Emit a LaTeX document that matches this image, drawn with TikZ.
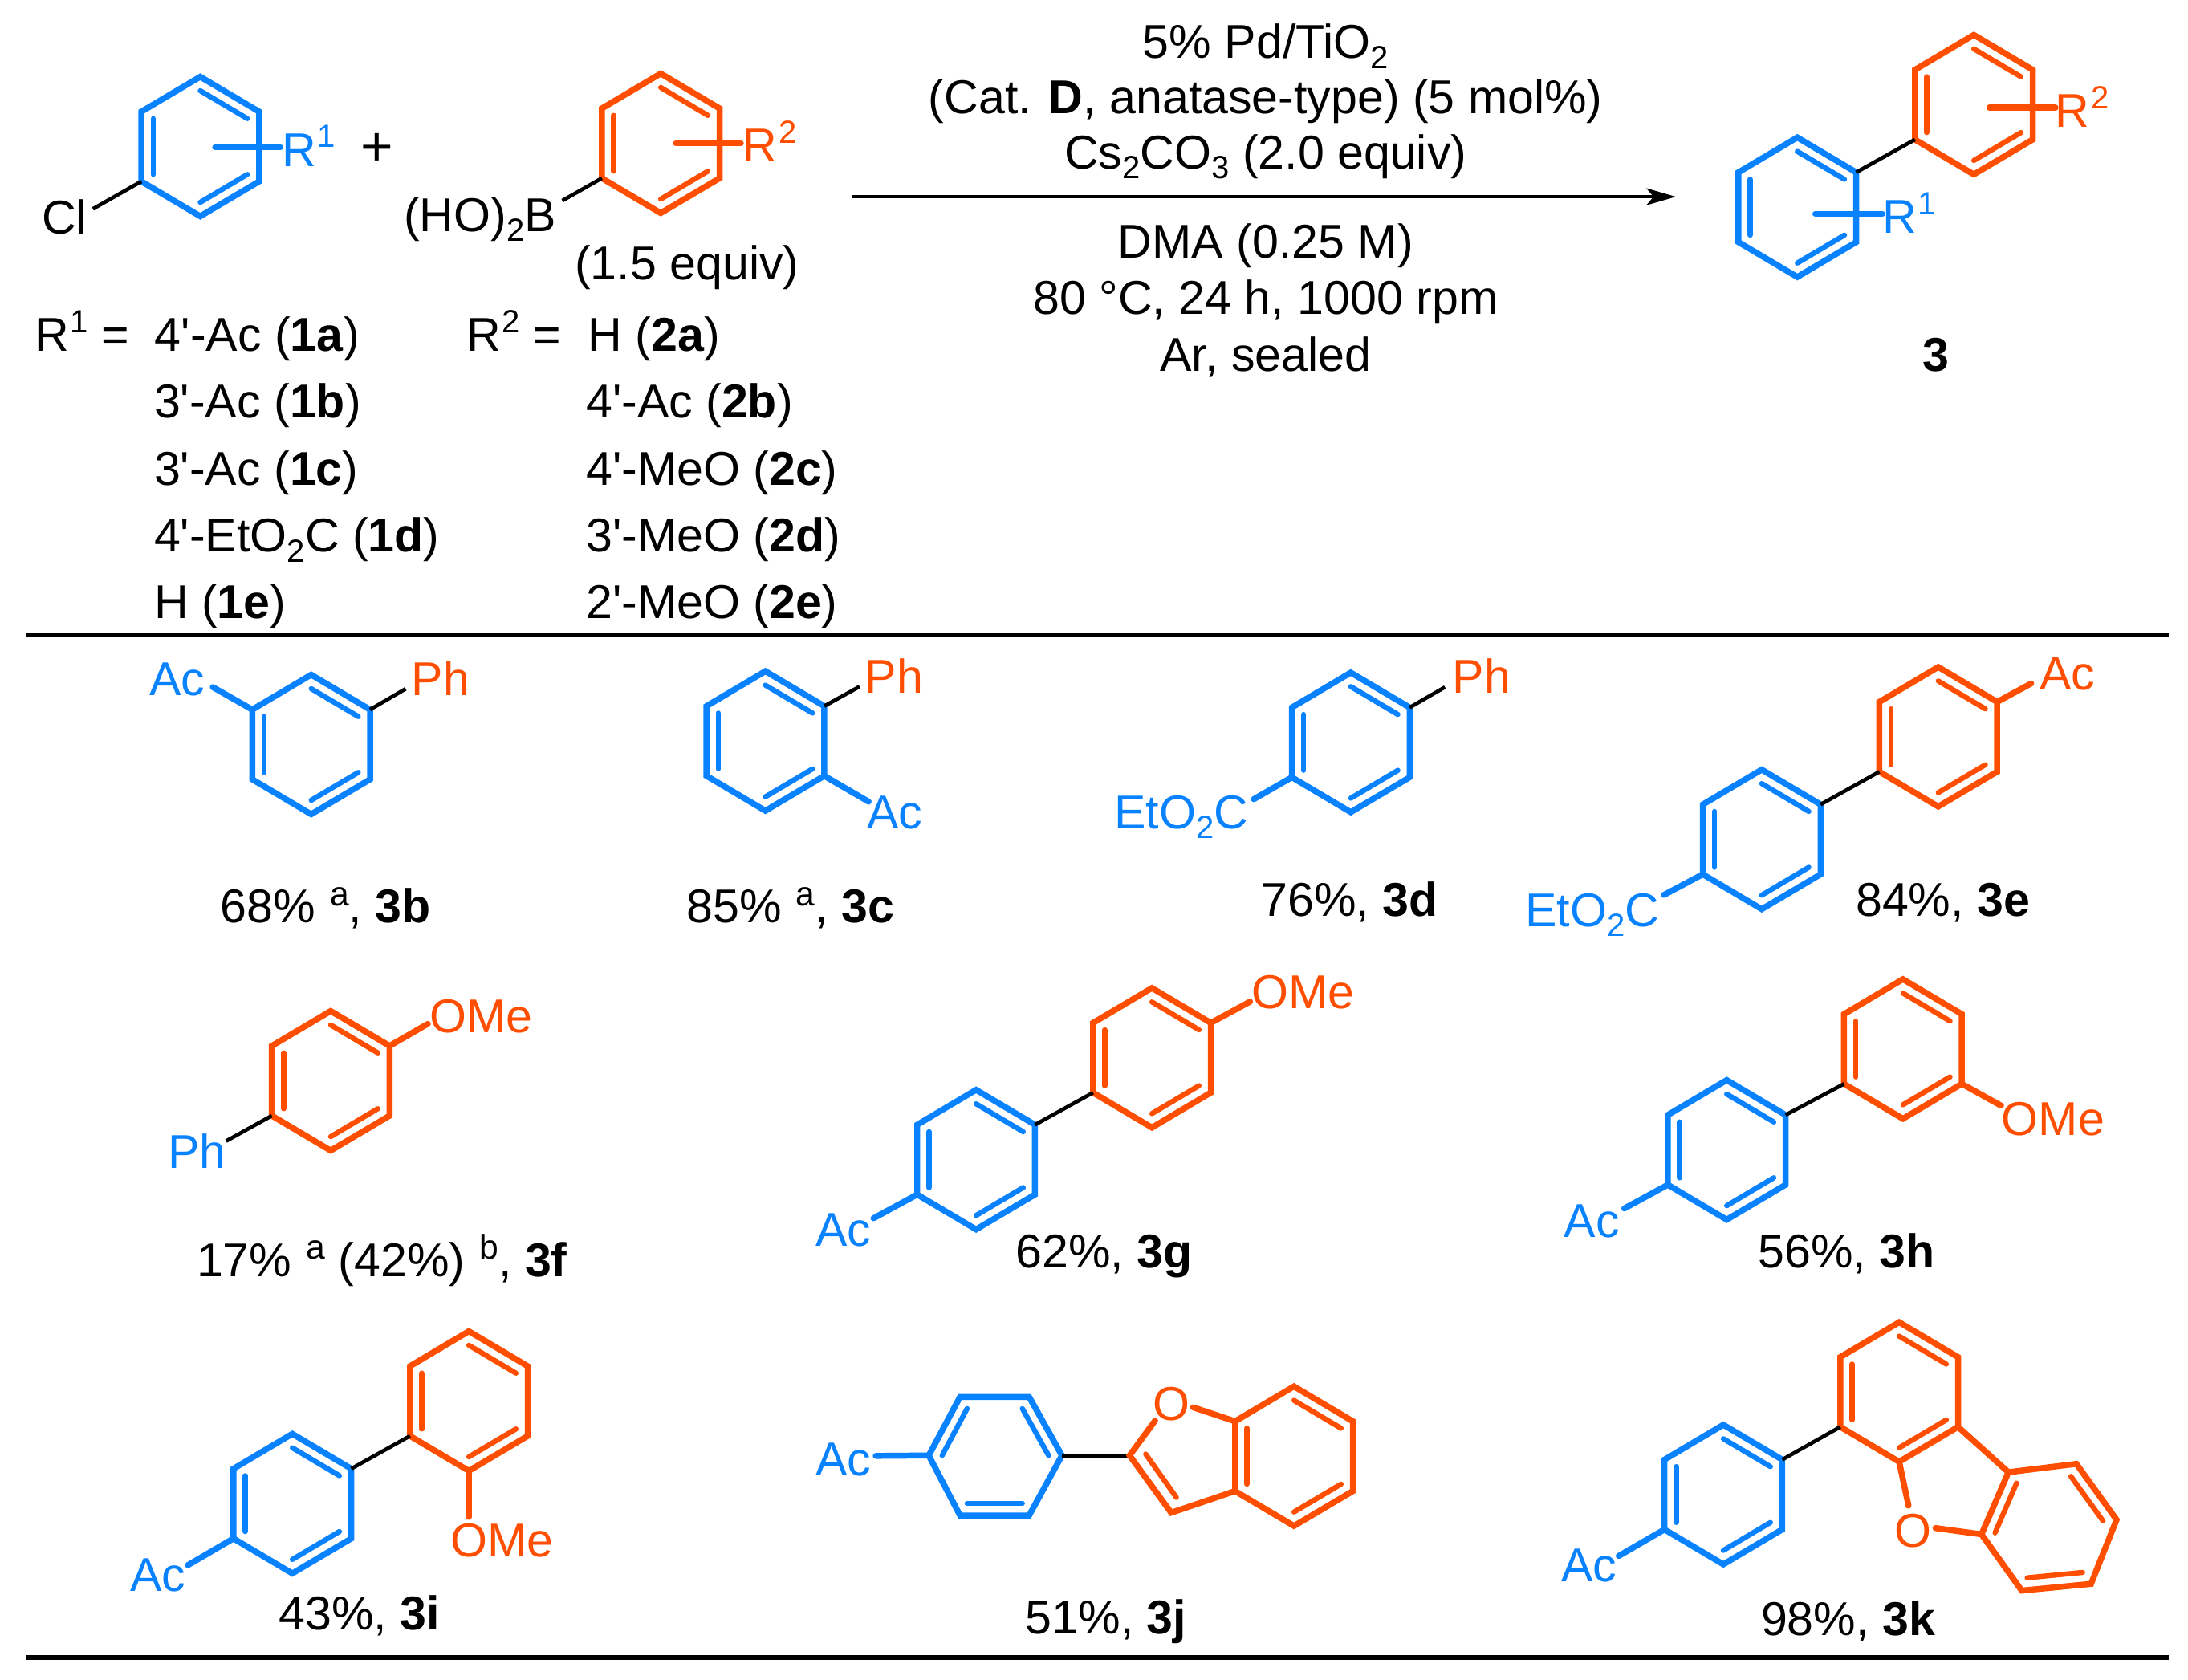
\documentclass[tikz,border=0pt]{standalone}
\usepackage{fontspec}
\setmainfont{Liberation Sans}
\usetikzlibrary{calc,arrows.meta}
\definecolor{cblue}{RGB}{8,130,255}
\definecolor{corange}{RGB}{255,78,0}
\newcommand\pr{\textquotesingle}
\newcommand\up[1]{\kern1pt\raisebox{13.5pt}{\fontsize{23}{23}\selectfont #1}}
\newcommand\ups[1]{\kern1pt\raisebox{12.5pt}{\fontsize{24.5}{24}\selectfont #1}}
\newcommand\dn[1]{\raisebox{-7.2pt}{\fontsize{23}{23}\selectfont #1}}
\newcommand\drawhex[2]{%
  \draw[bondline,#2] (#11)--(#12)--(#13)--(#14)--(#15)--(#16)--cycle;
  \draw[innerline,#2] ($(#11)!0.2!(#1c)$)--($(#12)!0.2!(#1c)$);
  \draw[innerline,#2] ($(#13)!0.2!(#1c)$)--($(#14)!0.2!(#1c)$);
  \draw[innerline,#2] ($(#15)!0.2!(#1c)$)--($(#16)!0.2!(#1c)$);}
\newcommand\ring[4]{%
  \coordinate (#1c) at (#2,#3);
  \coordinate (#11) at (#2,#3-50);
  \coordinate (#12) at (#2+42.2,#3-25);
  \coordinate (#13) at (#2+42.2,#3+25);
  \coordinate (#14) at (#2,#3+50);
  \coordinate (#15) at (#2-42.2,#3+25);
  \coordinate (#16) at (#2-42.2,#3-25);
  \drawhex{#1}{#4}}
\tikzset{
  bondline/.style={line width=4.3pt,line join=miter,miter limit=6},
  innerline/.style={line width=3.7pt,line cap=round},
  subbond/.style={line width=4.3pt,line cap=round},
  link/.style={line width=2.7pt,black},
  rulehead/.style={line width=3.1pt,black},
  lab/.style={inner sep=0pt,outer sep=0pt,anchor=base west,yshift=-0.8pt,font=\fontsize{34}{40}\selectfont},
  mid/.style={inner sep=0pt,outer sep=0pt,anchor=base,yshift=-0.8pt,font=\fontsize{34}{40}\selectfont},
  bl/.style={lab,text=cblue},
  og/.style={lab,text=corange}
}
\begin{document}
\begin{tikzpicture}[x=1pt,y=-1pt]
\useasboundingbox (0,0) rectangle (1568,1203.4);
\fill[white] (0,0) rectangle (1568,1203.4);
% ---------- reactants
\ring{ra}{143.5}{105}{cblue}
\coordinate (raCl) at (66.6,149.7);
\draw[link] (ra5)--(raCl);
\node[lab] (tCl) at (30,166.7) {Cl};
\coordinate (raXa) at (154.2,105.5); \coordinate (raXb) at (201,105.5);
\draw[subbond,cblue] (raXa)--(raXb);
\node[bl] (tR1) at (202,118.3) {R\up{1}};
\node[lab,anchor=base] (tplus) at (270,118) {\fontsize{40}{40}\selectfont +};
\ring{rb}{473.5}{102.7}{corange}
\coordinate (rbB) at (403,143.8);
\draw[link] (rb5)--(rbB);
\node[lab] (tB) at (289.5,165) {(HO)\dn{2}B};
\coordinate (rbXa) at (484.4,102.7); \coordinate (rbXb) at (530.9,102.7);
\draw[subbond,corange] (rbXa)--(rbXb);
\node[og] (tR2) at (532.5,115.3) {R\up{2}};
\node[lab] (teq) at (412,199.6) {(1.5 equiv)};
% ---------- tables
\node[lab] (t1) at (25,251) {R\up{1} =};
\node[lab] (t1a) at (111,251) {4\pr-Ac (\textbf{1a})};
\node[lab] (t1b) at (110.5,298.8) {3\pr-Ac (\textbf{1b})};
\node[lab] (t1c) at (110.5,347) {3\pr-Ac (\textbf{1c})};
\node[lab] (t1d) at (110.5,394.8) {4\pr-EtO\dn{2}C (\textbf{1d})};
\node[lab] (t1e) at (110.5,442.6) {H (\textbf{1e})};
\node[lab] (t2) at (334.5,251) {R\up{2} =};
\node[lab] (t2a) at (421.5,251) {H (\textbf{2a})};
\node[lab] (t2b) at (420,298.8) {4\pr-Ac (\textbf{2b})};
\node[lab] (t2c) at (420,347) {4\pr-MeO (\textbf{2c})};
\node[lab] (t2d) at (420,394.8) {3\pr-MeO (\textbf{2d})};
\node[lab] (t2e) at (420,442.6) {2\pr-MeO (\textbf{2e})};
% ---------- conditions
\node[mid] (c1) at (907,41) {5\% Pd/TiO\dn{2}};
\node[mid] (c2) at (907,80.7) {(Cat. \textbf{D}, anatase-type) (5 mol\%)};
\node[mid] (c3) at (907,120) {Cs\dn{2}CO\dn{3} (2.0 equiv)};
\coordinate (arrA) at (610,141); \coordinate (arrB) at (1201,141);
\draw[line width=2.7pt,-{Stealth[length=21pt,width=12pt,inset=5pt]}] (arrA)--(arrB);
\node[mid] (c4) at (907,184.3) {DMA (0.25 M)};
\node[mid] (c5) at (907,224.5) {80 °C, 24 h, 1000 rpm};
\node[mid] (c6) at (907,265) {Ar, sealed};
% ---------- product 3
\ring{pa}{1288}{148.5}{cblue}
\ring{pb}{1414.5}{75}{corange}
\draw[link] (pa2)--(pb5);
\coordinate (paXa) at (1300.9,153.2); \coordinate (paXb) at (1349,153.2);
\draw[subbond,cblue] (paXa)--(paXb);
\node[bl] (tpR1) at (1349,166.4) {R\up{1}};
\coordinate (pbXa) at (1425.6,77.2); \coordinate (pbXb) at (1473,77.2);
\draw[subbond,corange] (pbXa)--(pbXb);
\node[og] (tpR2) at (1473,90.4) {R\up{2}};
\node[mid] (t3) at (1387.5,265) {\textbf{3}};
% ---------- rules
\coordinate (ruA) at (18.5,455); \coordinate (ruB) at (1554,455);
\draw[rulehead] (ruA)--(ruB);
\coordinate (rvA) at (18.5,1187.8); \coordinate (rvB) at (1554,1187.8);
\draw[rulehead] (rvA)--(rvB);
% ---------- 3b
\ring{b}{223}{533.5}{cblue}
\coordinate (bAc) at (152.5,492.4); \coordinate (bPh) at (290.7,493.6);
\draw[subbond,cblue] (b6)--(bAc);
\draw[link] (b2)--(bPh);
\node[bl] (tbAc) at (107,497.5) {Ac};
\node[og] (tbPh) at (295,497.5) {Ph};
\node[lab] (yb) at (158,660.6) {68\% \ups{a}, \textbf{3b}};
% ---------- 3c
\ring{c}{548.5}{531}{cblue}
\coordinate (cPh) at (616,492); \coordinate (cAc) at (622.5,574.5);
\draw[link] (c2)--(cPh);
\draw[subbond,cblue] (c3)--(cAc);
\node[og] (tcPh) at (620,496) {Ph};
\node[bl] (tcAc) at (621.5,593) {Ac};
\node[lab] (yc) at (492,660.6) {85\% \ups{a}, \textbf{3c}};
% ---------- 3d
\ring{d}{968}{532}{cblue}
\coordinate (dPh) at (1035.5,492.4); \coordinate (dEs) at (898.5,572.7);
\draw[link] (d2)--(dPh);
\draw[subbond,cblue] (d5)--(dEs);
\node[og] (tdPh) at (1041,496) {Ph};
\node[bl] (tdEs) at (798.5,593) {EtO\dn{2}C};
\node[lab] (yd) at (904,656) {76\%, \textbf{3d}};
% ---------- 3e
\ring{e}{1262.5}{601.5}{cblue}
\ring{f}{1389}{528}{corange}
\draw[link] (e2)--(f5);
\coordinate (fAc) at (1455.6,489.8); \coordinate (eEs) at (1192.4,641.3);
\draw[subbond,corange] (f2)--(fAc);
\draw[subbond,cblue] (e5)--(eEs);
\node[og] (tfAc) at (1461.8,493.6) {Ac};
\node[bl] (teEs) at (1093,663) {EtO\dn{2}C};
\node[lab] (ye) at (1330,656) {84\%, \textbf{3e}};
% ---------- 3f
\ring{g}{237}{774.5}{corange}
\coordinate (gOMe) at (306.6,733.7); \coordinate (gPh) at (162,817.7);
\draw[subbond,corange] (g2)--(gOMe);
\draw[link] (g5)--(gPh);
\node[og] (tgO) at (308,739) {OMe};
\node[bl] (tgPh) at (120.5,836.5) {Ph};
\node[lab] (yf) at (141,914) {17\% \ups{a} (42\%) \ups{b}, \textbf{3f}};
% ---------- 3g
\ring{h}{699.5}{831}{cblue}
\ring{i}{825.5}{758}{corange}
\draw[link] (h2)--(i5);
\coordinate (iOMe) at (895.8,717.8); \coordinate (hAc) at (626,873);
\draw[subbond,corange] (i2)--(iOMe);
\draw[subbond,cblue] (h5)--(hAc);
\node[og] (tiO) at (897,722) {OMe};
\node[bl] (thAc) at (584.5,892) {Ac};
\node[lab] (yg) at (728,908) {62\%, \textbf{3g}};
% ---------- 3h
\ring{j}{1237.4}{824}{cblue}
\ring{k}{1363.7}{751.7}{corange}
\draw[link] (j2)--(k5);
\coordinate (kOMe) at (1434,792.3); \coordinate (jAc) at (1164,866);
\draw[subbond,corange] (k3)--(kOMe);
\draw[subbond,cblue] (j5)--(jAc);
\node[og] (tkO) at (1434.5,812.6) {OMe};
\node[bl] (tjAc) at (1121,886) {Ac};
\node[lab] (yh) at (1260,908) {56\%, \textbf{3h}};
% ---------- 3i
\ring{l}{209.5}{1077.5}{cblue}
\ring{m}{336}{1004}{corange}
\draw[link] (l2)--(m5);
\coordinate (mOMe) at (336,1087); \coordinate (lAc) at (134.6,1121.6);
\draw[subbond,corange] (m4)--(mOMe);
\draw[subbond,cblue] (l5)--(lAc);
\node[og] (tmO) at (323,1115) {OMe};
\node[bl] (tlAc) at (93.5,1139.4) {Ac};
\node[lab] (yi) at (200,1167) {43\%, \textbf{3i}};
% ---------- 3j
\coordinate (nc) at (713.3,1043);
\coordinate (n1) at (665.6,1043);
\coordinate (n2) at (688,1001);
\coordinate (n3) at (737.5,1001);
\coordinate (n4) at (761,1043);
\coordinate (n5) at (737.5,1086);
\coordinate (n6) at (688,1086);
\drawhex{n}{cblue}
\coordinate (nAc) at (627.6,1043.3);
\draw[subbond,cblue] (n1)--(nAc);
\node[bl] (tnAc) at (584.5,1056.8) {Ac};
\ring{o}{927.3}{1043.5}{corange}
\coordinate (fu2) at (809.5,1043);
\coordinate (fu3) at (839.3,1084);
\coordinate (fuOa) at (827.8,1018);
\coordinate (fuOb) at (855,1008.5);
\draw[link] (n4)--(fu2);
\draw[bondline,corange,line cap=round] (fuOa)--(fu2)--(fu3)--(o5);
\draw[subbond,corange] (fuOb)--(o6);
\coordinate (fuIa) at (821,1042); \coordinate (fuIb) at (843,1073);
\draw[innerline,corange] (fuIa)--(fuIb);
\node[og] (tnO) at (826,1017) {O};
\node[lab] (yj) at (735,1170) {51\%, \textbf{3j}};
% ---------- 3k
\ring{q}{1235}{1071}{cblue}
\ring{r}{1361}{997.5}{corange}
\draw[link] (q2)--(r5);
\coordinate (qAc) at (1160,1115);
\draw[subbond,cblue] (q5)--(qAc);
\node[bl] (tqAc) at (1119,1132.5) {Ac};
\coordinate (sc) at (1468.5,1094);
\coordinate (s1) at (1420,1099.5);
\coordinate (s2) at (1439.3,1055);
\coordinate (s3) at (1488,1049);
\coordinate (s4) at (1516.8,1089);
\coordinate (s5) at (1498.5,1135);
\coordinate (s6) at (1448.8,1139.8);
\drawhex{s}{corange}
\draw[bondline,corange] (r3)--(s2);
\coordinate (kOa) at (1367.7,1079); \coordinate (kOb) at (1387,1095);
\draw[subbond,corange] (r4)--(kOa);
\draw[subbond,corange] (kOb)--(s1);
\node[og] (trO) at (1358,1107.8) {O};
\node[lab] (yk) at (1262,1171) {98\%, \textbf{3k}};
\end{tikzpicture}
\end{document}
